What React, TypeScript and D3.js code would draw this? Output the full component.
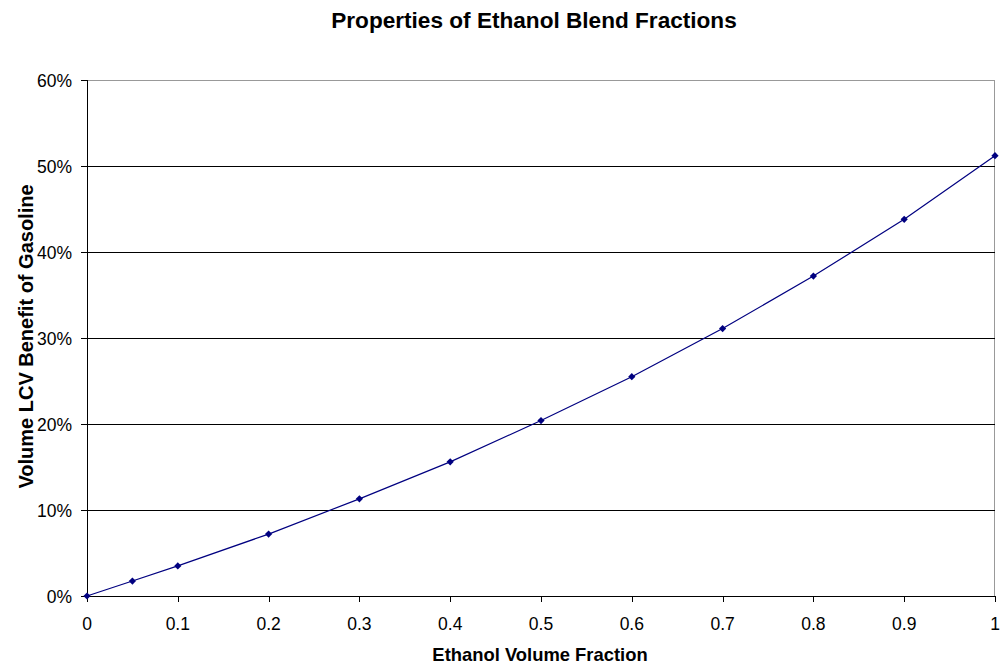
import * as d3 from "d3";
import React from "react";

const fractions = [0, 0.05, 0.1, 0.2, 0.3, 0.4, 0.5, 0.6, 0.7, 0.8, 0.9, 1.0];
const benefit = [0, 0.0174, 0.035, 0.072, 0.113, 0.156, 0.204, 0.255, 0.311, 0.372, 0.438, 0.512];
const xTicks = [0, 0.1, 0.2, 0.3, 0.4, 0.5, 0.6, 0.7, 0.8, 0.9, 1];
const yTicks = [0, 0.1, 0.2, 0.3, 0.4, 0.5, 0.6];

const width = 1000;
const height = 666;
const margin = { left: 87, right: 5, top: 80, bottom: 70 };
const font = "'Liberation Sans', Arial, sans-serif";

export default function App() {
  const innerWidth = width - margin.left - margin.right;
  const innerHeight = height - margin.top - margin.bottom;

  const x = d3.scaleLinear().domain([0, 1]).range([0, innerWidth]);
  const y = d3.scaleLinear().domain([0, 0.6]).range([innerHeight, 0]);

  const points = fractions.map((f, i) => ({ f, v: benefit[i] }));
  const line = d3.line<{ f: number; v: number }>()
    .x((d) => x(d.f))
    .y((d) => y(d.v));
  const marker = d3.symbol().type(d3.symbolSquare).size(26)();

  return (
    <svg width={width} height={height} style={{ position: "absolute", left: 0, top: 0 }}>
      <rect width={width} height={height} fill="#fff" />
      <text x={534} y={27.5} textAnchor="middle" fontFamily={font} fontWeight="bold" fontSize={22.6}>
        Properties of Ethanol Blend Fractions
      </text>
      <g transform={`translate(${margin.left},${margin.top})`} shapeRendering="crispEdges">
        {/* border */}
        <line x1={0} x2={innerWidth} y1={0.5} y2={0.5} stroke="#999" />
        <line x1={innerWidth - 0.5} x2={innerWidth - 0.5} y1={0} y2={innerHeight} stroke="#999" />
        {yTicks.map((t) => (
          <g key={t}>
            {t > 0 && t < 0.6 && (
              <line x1={0} x2={innerWidth} y1={y(t) + 0.5} y2={y(t) + 0.5} stroke="#000" />
            )}
            <line x1={-6} x2={0} y1={y(t) + 0.5} y2={y(t) + 0.5} stroke="#000" />
            <text
              x={-15}
              y={y(t)}
              dy="0.42em"
              textAnchor="end"
              fontFamily={font}
              fontSize={17.5}
            >
              {d3.format(".0%")(t)}
            </text>
          </g>
        ))}
        {xTicks.map((t) => (
          <g key={t}>
            <line x1={x(t) + 0.5} x2={x(t) + 0.5} y1={innerHeight} y2={innerHeight + 6} stroke="#000" />
            <text
              x={x(t)}
              y={innerHeight + 34}
              textAnchor="middle"
              fontFamily={font}
              fontSize={17.5}
            >
              {d3.format("~g")(t)}
            </text>
          </g>
        ))}
        <line x1={0.5} x2={0.5} y1={0} y2={innerHeight} stroke="#000" />
        <line x1={0} x2={innerWidth} y1={innerHeight + 0.5} y2={innerHeight + 0.5} stroke="#000" />
      </g>
      <g transform={`translate(${margin.left},${margin.top})`}>
        <path d={line(points) ?? ""} fill="none" stroke="#000080" strokeWidth={1.2} />
        {points.map((p) => (
          <path
            key={p.f}
            d={marker ?? ""}
            transform={`translate(${x(p.f)},${y(p.v)}) rotate(45)`}
            fill="#000080"
          />
        ))}
      </g>
      <text x={540} y={661} textAnchor="middle" fontFamily={font} fontWeight="bold" fontSize={18.4}>
        Ethanol Volume Fraction
      </text>
      <text
        transform={`translate(33,336.5) rotate(-90)`}
        textAnchor="middle"
        fontFamily={font}
        fontWeight="bold"
        fontSize={20}
      >
        Volume LCV Benefit of Gasoline
      </text>
    </svg>
  );
}
